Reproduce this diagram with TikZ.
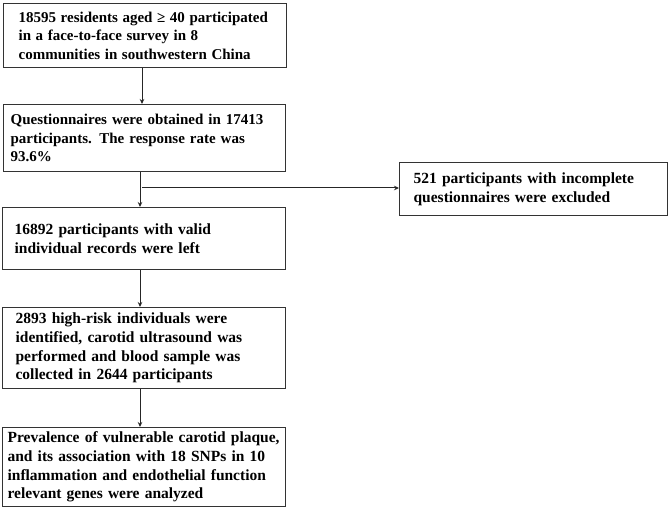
\documentclass[tikz,border=0pt]{standalone}
\usepackage{fontspec}
\setmainfont{Liberation Serif}[WordSpace=1.7]
\usetikzlibrary{arrows.meta}
\newcommand{\tightwords}{\spaceskip=4.6bp plus 1bp minus 1bp\relax}
\begin{document}
\begin{tikzpicture}[x=1bp,y=-1bp,
  box/.style={draw=black!80, line width=1.2bp, align=left, anchor=north west,
    font=\fontsize{15.5bp}{18.7bp}\selectfont\bfseries, inner ysep=0pt},
  arr/.style={draw=black!85, line width=1bp, -{Stealth[length=5bp,width=4.5bp]}}]
\useasboundingbox (0,0) rectangle (671,509);
\node[box, font=\fontsize{15bp}{18.7bp}\selectfont\bfseries,
  inner xsep=15bp, text width=253bp, minimum height=64bp] (b1) at (3,3)
  {\tightwords 18595 residents aged ≥ 40 participated\\in a face-to-face survey in 8\\communities in southwestern China};
\node[box, font=\fontsize{15bp}{18.7bp}\selectfont\bfseries,
  inner xsep=7bp, text width=268bp, minimum height=67bp] (b2) at (3,104)
  {Questionnaires were obtained in 17413\\participants. The response rate was\\93.6\%};
\node[box, inner xsep=12bp, text width=259bp, minimum height=62bp] (b3) at (2,207)
  {16892 participants with valid\\individual records were left};
\node[box, inner xsep=14bp, text width=240bp, minimum height=53bp] (b4) at (399,162)
  {521 participants with incomplete\\questionnaires were excluded};
\node[box, inner xsep=13bp, text width=257bp, minimum height=81bp] (b5) at (2,307)
  {2893 high-risk individuals were\\identified, carotid ultrasound was\\performed and blood sample was\\collected in 2644 participants};
\node[box, inner xsep=5bp, text width=273bp, minimum height=79bp] (b6) at (2,427)
  {Prevalence of vulnerable carotid plaque,\\and its association with 18 SNPs in 10\\inflammation and endothelial function\\relevant genes were analyzed};
\draw[arr] (b1.south -| 142,0) -- (b2.north -| 142,0);
\draw[arr] (b2.south -| 140,0) -- (b3.north -| 140,0);
\coordinate (j) at (142,188);
\draw[arr] (j) -- (b4.west |- j);
\draw[arr] (b3.south -| 140,0) -- (b5.north -| 140,0);
\draw[arr] (b5.south -| 140,0) -- (b6.north -| 140,0);
\end{tikzpicture}
\end{document}
